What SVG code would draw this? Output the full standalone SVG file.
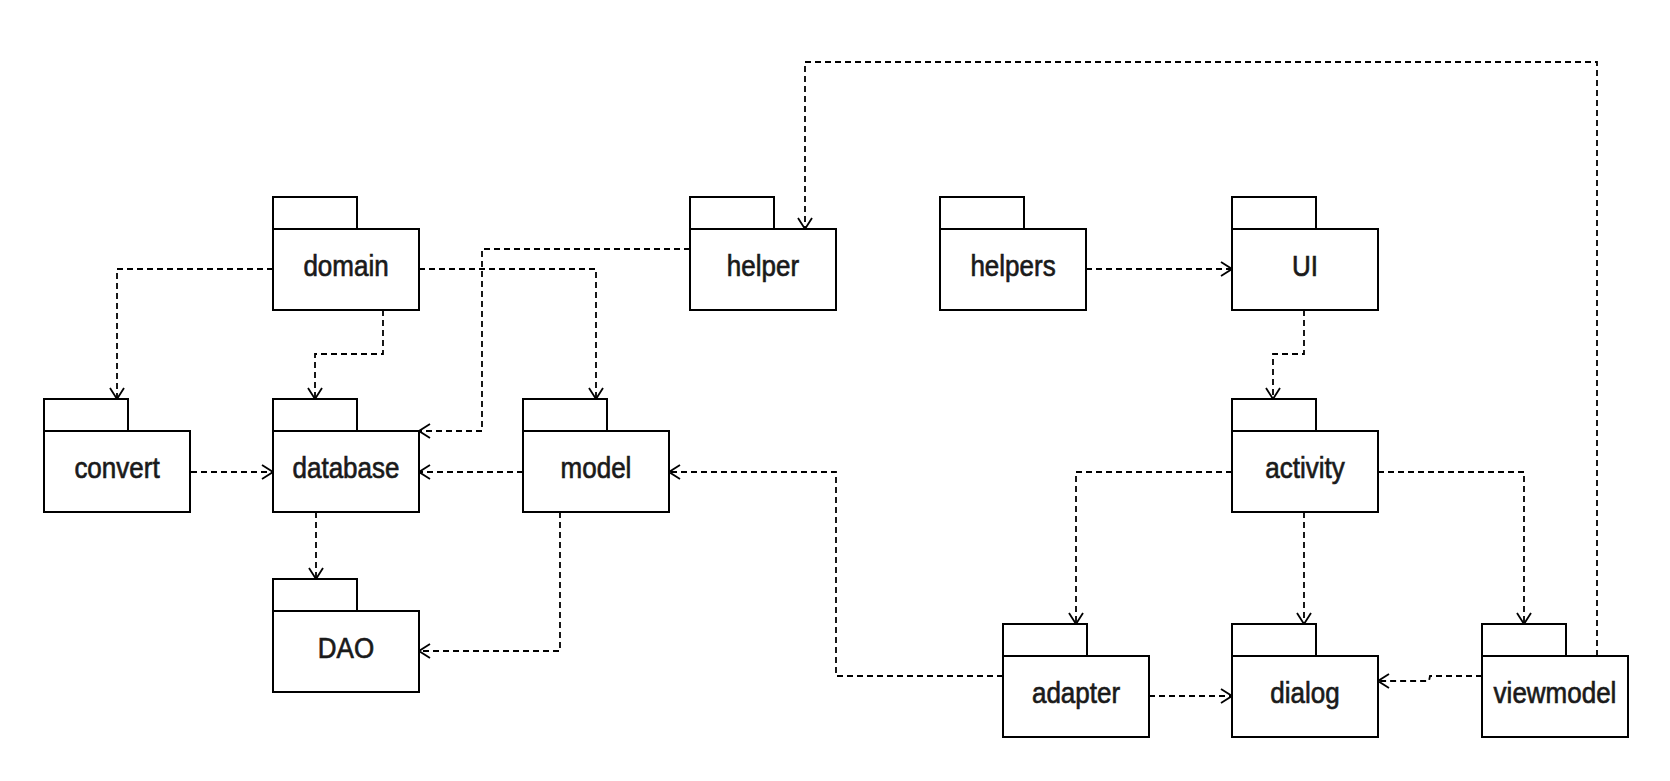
<svg xmlns="http://www.w3.org/2000/svg" width="1670" height="781" viewBox="0 0 1670 781">
<style>
.pkg rect{fill:#fff;stroke:#000;stroke-width:2}
.pkg text{font-family:"Liberation Sans",Arial,sans-serif;font-size:26px;fill:#1a1a1a;stroke:#1a1a1a;stroke-width:0.6;text-anchor:middle}
.dep{fill:none;stroke:#000;stroke-width:1.8;stroke-dasharray:6 4}
</style>
<defs>
<marker id="open" viewBox="0 0 13 16" refX="12" refY="8" markerWidth="13" markerHeight="16" markerUnits="userSpaceOnUse" orient="auto">
<path d="M1,1 L12,8 L1,15" fill="none" stroke="#000" stroke-width="1.8" stroke-dasharray="none"/>
</marker>
</defs>
<rect width="1670" height="781" fill="#fff"/>
<g id="connectors">
<path class="dep" marker-end="url(#open)" d="M273,269 H117 V399"/>
<path class="dep" marker-end="url(#open)" d="M383,310 V354 H315 V399"/>
<path class="dep" marker-end="url(#open)" d="M419,269 H596 V399"/>
<path class="dep" marker-end="url(#open)" d="M690,249 H482 V431 H419"/>
<path class="dep" marker-end="url(#open)" d="M191,472 H273"/>
<path class="dep" marker-end="url(#open)" d="M523,472 H419"/>
<path class="dep" marker-end="url(#open)" d="M316,512 V579"/>
<path class="dep" marker-end="url(#open)" d="M560,512 V651 H419"/>
<path class="dep" marker-end="url(#open)" d="M1003,676 H836 V472 H669"/>
<path class="dep" marker-end="url(#open)" d="M1086,269 H1232"/>
<path class="dep" marker-end="url(#open)" d="M1304,310 V354 H1273 V399"/>
<path class="dep" marker-end="url(#open)" d="M1232,472 H1076 V624"/>
<path class="dep" marker-end="url(#open)" d="M1304,512 V624"/>
<path class="dep" marker-end="url(#open)" d="M1378,472 H1524 V624"/>
<path class="dep" marker-end="url(#open)" d="M1149,696 H1232"/>
<path class="dep" marker-end="url(#open)" d="M1482,676 H1430 L1429,681 H1378"/>
<path class="dep" marker-end="url(#open)" d="M1597,656 V62 H805 V229"/>
</g>
<g id="domain" class="pkg"><rect x="273" y="197" width="84" height="32"/><rect x="273" y="229" width="146" height="81"/><text transform="translate(346,276) scale(1,1.12)">domain</text></g>
<g id="helper" class="pkg"><rect x="690" y="197" width="84" height="32"/><rect x="690" y="229" width="146" height="81"/><text transform="translate(763,276) scale(1,1.12)">helper</text></g>
<g id="helpers" class="pkg"><rect x="940" y="197" width="84" height="32"/><rect x="940" y="229" width="146" height="81"/><text transform="translate(1013,276) scale(1,1.12)">helpers</text></g>
<g id="UI" class="pkg"><rect x="1232" y="197" width="84" height="32"/><rect x="1232" y="229" width="146" height="81"/><text transform="translate(1305,276) scale(1,1.12)">UI</text></g>
<g id="convert" class="pkg"><rect x="44" y="399" width="84" height="32"/><rect x="44" y="431" width="146" height="81"/><text transform="translate(117,478) scale(1,1.12)">convert</text></g>
<g id="database" class="pkg"><rect x="273" y="399" width="84" height="32"/><rect x="273" y="431" width="146" height="81"/><text transform="translate(346,478) scale(1,1.12)">database</text></g>
<g id="model" class="pkg"><rect x="523" y="399" width="84" height="32"/><rect x="523" y="431" width="146" height="81"/><text transform="translate(596,478) scale(1,1.12)">model</text></g>
<g id="activity" class="pkg"><rect x="1232" y="399" width="84" height="32"/><rect x="1232" y="431" width="146" height="81"/><text transform="translate(1305,478) scale(1,1.12)">activity</text></g>
<g id="DAO" class="pkg"><rect x="273" y="579" width="84" height="32"/><rect x="273" y="611" width="146" height="81"/><text transform="translate(346,658) scale(1,1.12)">DAO</text></g>
<g id="adapter" class="pkg"><rect x="1003" y="624" width="84" height="32"/><rect x="1003" y="656" width="146" height="81"/><text transform="translate(1076,703) scale(1,1.12)">adapter</text></g>
<g id="dialog" class="pkg"><rect x="1232" y="624" width="84" height="32"/><rect x="1232" y="656" width="146" height="81"/><text transform="translate(1305,703) scale(1,1.12)">dialog</text></g>
<g id="viewmodel" class="pkg"><rect x="1482" y="624" width="84" height="32"/><rect x="1482" y="656" width="146" height="81"/><text transform="translate(1555,703) scale(1,1.12)">viewmodel</text></g>
</svg>
